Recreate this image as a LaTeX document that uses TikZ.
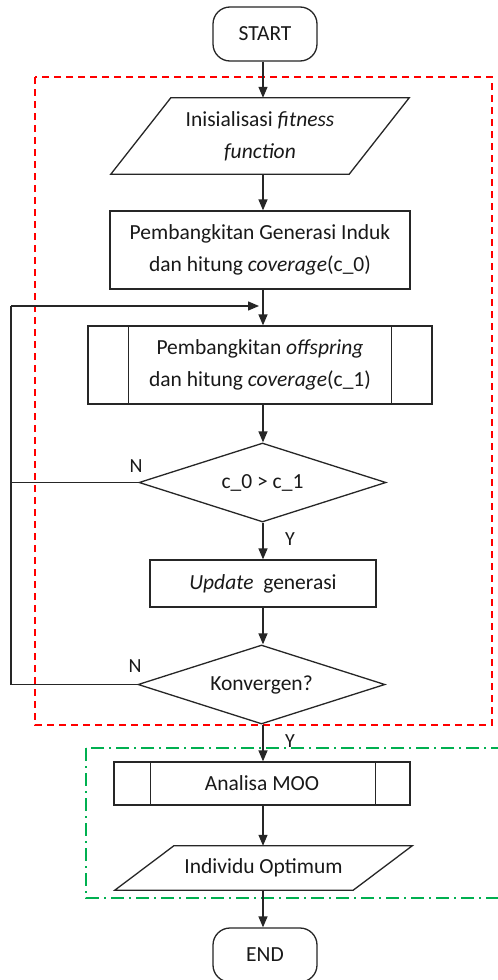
\documentclass[tikz,border=0pt]{standalone}
\usepackage{fontspec}
\setmainfont{Carlito}
\usetikzlibrary{arrows.meta,shapes.geometric,calc}
\begin{document}
\begin{tikzpicture}[x=1pt,y=-1pt,
  txt/.style={font=\fontsize{21.5}{32}\selectfont, align=center, text=black!90},
  ln/.style={line width=1.3pt, draw=black!85},
  arr/.style={ln, -{Triangle[length=11pt,width=9pt]}},
  boxn/.style={txt, ln, draw, rectangle, inner sep=0pt},
  plain/.style={txt, inner sep=0pt},
  term/.style={txt, ln, draw, rectangle, rounded corners=17pt, inner sep=0pt, minimum width=104pt, minimum height=54pt},
  dia/.style={txt, ln, draw, diamond, shape aspect=3.1, inner sep=0pt, minimum width=247pt, minimum height=79pt},
  lbl/.style={font=\fontsize{20}{22}\selectfont, text=black!90, inner sep=0pt}
]
\clip (0,0) rectangle (498,980);
\fill[white] (0,0) rectangle (498,980);

% group frames
\draw[red, line width=2pt, dash pattern=on 7pt off 5pt] (35,77) rectangle (492,725);
\draw[color={rgb,255:red,0;green,176;blue,80}, line width=2pt, dash pattern=on 13pt off 5pt on 2pt off 5pt] (86,748) rectangle (520,898);

\coordinate (ax) at (263,0);

\node[term] (start) at (265,34) {START};

\node[plain, minimum width=298pt, minimum height=76pt] (init) at (260,136) {Inisialisasi \textit{fitness}\\\textit{function}};
\draw[ln] ($(init.north west)+(60,0)$) -- (init.north east) -- ($(init.south east)-(60,0)$) -- (init.south west) -- cycle;

\node[boxn, minimum width=300pt, minimum height=78pt] (gen) at (260,250) {Pembangkitan Generasi Induk\\dan hitung \textit{coverage}(c\_0)};

\node[boxn, minimum width=344pt, minimum height=78pt] (off) at (260,365) {Pembangkitan \textit{offspring}\\dan hitung \textit{coverage}(c\_1)};
\draw[ln] ($(off.north west)+(41,0)$) -- ($(off.south west)+(41,0)$);
\draw[ln] ($(off.north east)-(41,0)$) -- ($(off.south east)-(41,0)$);

\node[dia] (cmp) at (262.5,482.5) {c\_0 > c\_1};

\node[boxn, minimum width=226pt, minimum height=47pt] (upd) at (263,583.5) {\textit{Update}\ \ generasi};

\node[dia] (konv) at (261.5,684.5) {Konvergen?};

\node[boxn, minimum width=296pt, minimum height=43pt] (moo) at (262,783.5) {Analisa MOO};
\draw[ln] ($(moo.north west)+(37,0)$) -- ($(moo.south west)+(37,0)$);
\draw[ln] ($(moo.north east)-(35,0)$) -- ($(moo.south east)-(35,0)$);

\node[plain, minimum width=297pt, minimum height=44pt] (opt) at (263.5,868) {Individu Optimum};
\draw[ln] ($(opt.north west)+(59,0)$) -- (opt.north east) -- ($(opt.south east)-(59,0)$) -- (opt.south west) -- cycle;

\node[term] (end) at (265,955) {END};

% main flow
\draw[arr] (start.south -| ax) -- (init.north -| ax);
\draw[arr] (init.south -| ax) -- (gen.north -| ax);
\draw[arr] (gen.south -| ax) -- (off.north -| ax);
\draw[arr] (off.south -| ax) -- (cmp.north -| ax);
\draw[arr] (cmp.south -| ax) -- (upd.north -| ax);
\draw[arr] (upd.south -| ax) -- (konv.north -| ax);
\draw[arr] (konv.south -| ax) -- (moo.north -| ax);
\draw[arr] (moo.south -| ax) -- (opt.north -| ax);
\draw[arr] (opt.south -| ax) -- (end.north -| ax);

% loops
\coordinate (ltop) at (11,306);
\coordinate (lend) at (259,306);
\draw[ln] (konv.west) -| (ltop);
\draw[ln] (cmp.west) -- (cmp.west -| ltop);
\draw[arr] (ltop) -- (lend);

% labels
\node[lbl] (n1) at (136,466) {N};
\node[lbl] (y1) at (290,539) {Y};
\node[lbl] (n2) at (135,666) {N};
\node[lbl] (y2) at (290,741) {Y};
\end{tikzpicture}
\end{document}
